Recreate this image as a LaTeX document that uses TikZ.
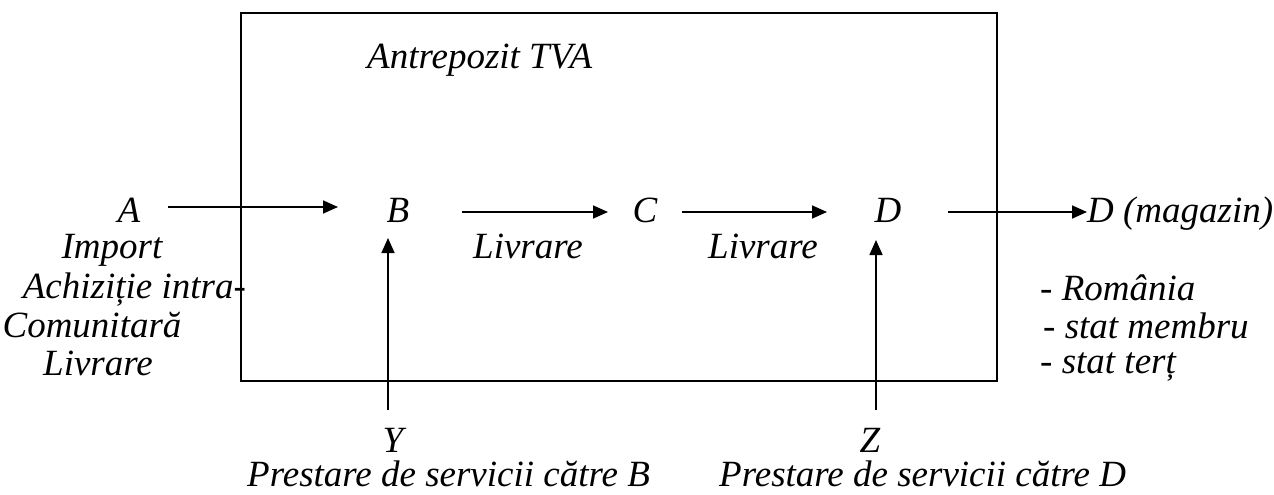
\documentclass[tikz,border=0pt]{standalone}
\usepackage{fontspec}
\setmainfont{Liberation Serif}
\usetikzlibrary{arrows.meta}
\begin{document}
\begin{tikzpicture}[x=1pt,y=-1pt,
  lbl/.style={inner sep=0pt,font=\fontsize{37}{44}\selectfont\itshape},
  arr/.style={line width=1.7pt,-{Triangle[length=15pt,width=13pt]}},
  boxline/.style={line width=2pt}]
\useasboundingbox (0,0) rectangle (1274,495);
% box
\draw[boxline] (241,13) rectangle (997,381);
\node[lbl,anchor=base west] (title) at (367,68) {Antrepozit TVA};
% main row
\node[lbl,anchor=base] (A) at (129,222) {A};
\node[lbl,anchor=base] (B) at (398,222) {B};
\node[lbl,anchor=base] (C) at (645,222) {C};
\node[lbl,anchor=base] (D) at (888,222) {D};
\node[lbl,anchor=base west] (Dm) at (1087,222) {D (magazin)};
% arrows
\coordinate (a1) at (168,207); \coordinate (a2) at (338,207);
\coordinate (b1) at (462,212); \coordinate (b2) at (608,212);
\coordinate (c1) at (682,212); \coordinate (c2) at (827,212);
\coordinate (d1) at (948,212); \coordinate (d2) at (1087,212);
\draw[arr] (a1) -- (a2);
\draw[arr] (b1) -- (b2);
\draw[arr] (c1) -- (c2);
\draw[arr] (d1) -- (d2);
% labels
\node[lbl,anchor=base] (liv1) at (528,258) {Livrare};
\node[lbl,anchor=base] (liv2) at (763,258) {Livrare};
\node[lbl,anchor=base] (imp) at (112,258) {Import};
\node[lbl,anchor=base east] (ach) at (246,298) {Achiziție intra-};
\node[lbl,anchor=base] (com) at (92,337) {Comunitară};
\node[lbl,anchor=base] (livA) at (98,375) {Livrare};
\node[lbl,anchor=base west] (ro) at (1040,300) {- România};
\node[lbl,anchor=base west] (sm) at (1043,338) {- stat membru};
\node[lbl,anchor=base west] (st) at (1040,373) {- stat terț};
% bottom
\node[lbl,anchor=base] (Y) at (393,452) {Y};
\node[lbl,anchor=base] (Z) at (870,452) {Z};
\node[lbl,anchor=base west] (pY) at (247,486) {Prestare de servicii către B};
\node[lbl,anchor=base west] (pZ) at (719,486) {Prestare de servicii către D};
\coordinate (y1) at (388,410); \coordinate (y2) at (388,238);
\coordinate (z1) at (876,410); \coordinate (z2) at (876,240);
\draw[arr] (y1) -- (y2);
\draw[arr] (z1) -- (z2);
\end{tikzpicture}
\end{document}
